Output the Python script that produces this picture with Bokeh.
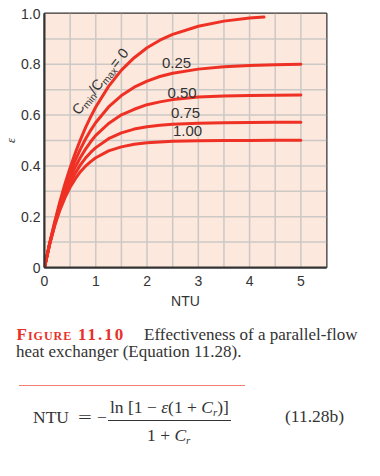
import math
from bokeh.plotting import figure
from bokeh.models import Range1d, FixedTicker, Div
from bokeh.layouts import column
from bokeh.core.properties import value
from bokeh.embed import file_html
from bokeh.resources import INLINE

# ---------------- data ----------------
ntu = [0, 0.1, 0.2, 0.3, 0.4, 0.5, 0.6, 0.7, 0.8, 0.9, 1.0, 1.25, 1.5, 1.75, 2.0, 2.25, 2.5, 3.0, 3.5, 4.0, 4.5, 5.0]
ntu_cr0 = [0, 0.1, 0.2, 0.3, 0.4, 0.5, 0.6, 0.7, 0.8, 0.9, 1.0, 1.25, 1.5, 1.75, 2.0, 2.25, 2.5, 3.0, 3.5, 4.0, 4.28]
eff_cr0 = [0, 0.095, 0.181, 0.259, 0.330, 0.393, 0.451, 0.503, 0.551, 0.593, 0.632, 0.713, 0.777, 0.826, 0.865, 0.895, 0.918, 0.950, 0.970, 0.982, 0.986]
eff_cr025 = [0, 0.094, 0.177, 0.250, 0.315, 0.372, 0.422, 0.466, 0.506, 0.540, 0.571, 0.632, 0.677, 0.710, 0.734, 0.752, 0.765, 0.781, 0.790, 0.795, 0.798, 0.800]
eff_cr050 = [0, 0.093, 0.173, 0.242, 0.301, 0.352, 0.396, 0.433, 0.466, 0.495, 0.520, 0.567, 0.601, 0.623, 0.641, 0.652, 0.661, 0.671, 0.675, 0.677, 0.678, 0.679]
eff_cr075 = [0, 0.092, 0.169, 0.233, 0.288, 0.333, 0.371, 0.404, 0.431, 0.453, 0.472, 0.507, 0.530, 0.545, 0.554, 0.560, 0.564, 0.568, 0.570, 0.571, 0.572, 0.572]
eff_cr100 = [0, 0.091, 0.165, 0.226, 0.275, 0.316, 0.349, 0.377, 0.399, 0.417, 0.432, 0.459, 0.475, 0.485, 0.491, 0.494, 0.497, 0.499, 0.500, 0.500, 0.501, 0.501]
cr_labels = ["0.25", "0.50", "0.75", "1.00"]
x_ticks = [0, 1, 2, 3, 4, 5]
y_ticks = [0, 0.2, 0.4, 0.6, 0.8, 1.0]
x_grid = [0.5, 1.0, 1.5, 2.0, 2.5, 3.0, 3.5, 4.0, 4.5, 5.0]
y_grid = [0.1, 0.2, 0.3, 0.4, 0.5, 0.6, 0.7, 0.8, 0.9]

# ---------------- styling / layout ----------------
RED = "#EE3124"
CAP_RED = "#E8302A"
INK = "#333333"
BG = "#FCE8DC"
GRID = "#CBC8C6"
SANS = "Liberation Sans"
SERIF = "Liberation Serif"

W = 380
H1 = 314
ML, MT, FW, FH = 42, 13, 284, 254
MB = H1 - MT - FH
MR = W - ML - FW
XMAX, YMAX = 5.5, 1.0


def page_to_data(px, py):
    return (px - ML) / FW * XMAX, (MT + FH - py) / FH * YMAX


p = figure(width=W, height=H1, x_range=Range1d(0, XMAX), y_range=Range1d(0, YMAX),
           output_backend="svg", toolbar_location=None,
           min_border_left=ML, min_border_right=MR, min_border_top=MT, min_border_bottom=MB,
           background_fill_color=BG, border_fill_color="white",
           outline_line_color=INK, outline_line_width=2)

p.xaxis.ticker = FixedTicker(ticks=x_ticks)
p.yaxis.ticker = FixedTicker(ticks=y_ticks)
p.yaxis.major_label_overrides = {0: "0", 1: "1.0"}
p.grid.visible = False

p.axis.major_tick_line_color = None
p.axis.minor_tick_line_color = None
p.axis.major_tick_out = 0
p.axis.major_tick_in = 0
p.axis.minor_tick_out = 0
p.axis.minor_tick_in = 0
p.axis.axis_line_color = INK
p.axis.axis_line_width = 2
p.axis.major_label_text_font = SANS
p.axis.major_label_text_font_size = "14px"
p.axis.major_label_text_color = INK
p.xaxis.major_label_standoff = 8
p.yaxis.major_label_standoff = 4

p.xaxis.axis_label = "NTU"
p.xaxis.axis_label_text_font = SANS
p.xaxis.axis_label_text_font_size = "14px"
p.xaxis.axis_label_text_font_style = "normal"
p.xaxis.axis_label_text_color = INK
p.xaxis.axis_label_standoff = 4

p.yaxis.axis_label = "ε"
p.yaxis.axis_label_text_font = SERIF
p.yaxis.axis_label_text_font_size = "13px"
p.yaxis.axis_label_text_font_style = "italic"
p.yaxis.axis_label_text_color = INK
p.yaxis.axis_label_standoff = 0

# plot background and grid lines
p.quad(left=[0], right=[XMAX], bottom=[0], top=[YMAX], fill_color=BG, line_color=None)
p.multi_line(xs=[[g, g] for g in x_grid], ys=[[0, YMAX] for _ in x_grid],
             line_color=GRID, line_width=1.5)
p.multi_line(xs=[[0, XMAX] for _ in y_grid], ys=[[g, g] for g in y_grid],
             line_color=GRID, line_width=1.5)

series = [(ntu_cr0, eff_cr0), (ntu, eff_cr025), (ntu, eff_cr050), (ntu, eff_cr075), (ntu, eff_cr100)]
for xs, ys in series:
    p.line(xs, ys, line_color=RED, line_width=3, line_join="round", line_cap="round")

# curve labels
label_pos = [(175, 62.5), (180.5, 92), (184, 112), (186, 130.5)]
for lab, (px, py) in zip(cr_labels, label_pos):
    lx, ly = page_to_data(px, py)
    p.text(x=[lx], y=[ly], text=[lab], text_font=value(SANS), text_font_size="15px",
           text_color=INK, text_align="center", text_baseline="middle")

# rotated "Cmin/Cmax = 0" label
theta = math.radians(51)
u = (math.cos(theta), -math.sin(theta))
dn = (math.sin(theta), math.cos(theta))
start = (72.6, 112.2)
pieces = [("C", "14.5px", 0, 10.5), ("min", "10px", 4, 16.0), ("/C", "14.5px", 0, 14.5),
          ("max", "10px", 4, 19.0), (" = 0", "14.5px", 0, 24.6)]
cum = 0.0
for s, fs, off, w in pieces:
    px = start[0] + cum * u[0] + off * dn[0]
    py = start[1] + cum * u[1] + off * dn[1]
    lx, ly = page_to_data(px, py)
    p.text(x=[lx], y=[ly], text=[s], angle=theta, text_font=value(SANS), text_font_size=fs,
           text_color=INK, text_align="left", text_baseline="middle")
    cum += w

# ---------------- caption and equation (HTML below the plot) ----------------
H2 = 476 - H1
parts = []


def span(px, baseline, inner, size, extra=""):
    top = baseline - H1 - 0.8375 * size
    parts.append(
        f'<span style="position:absolute;left:{px}px;top:{top:.1f}px;font-size:{size}px;'
        f'line-height:1;white-space:nowrap;{extra}">{inner}</span>')


def rule(px0, px1, py, color, width):
    parts.append(
        f'<div style="position:absolute;left:{px0}px;top:{py - H1 - width / 2:.1f}px;'
        f'width:{px1 - px0}px;height:0;border-top:{width}px solid {color};"></div>')


SUB = '<span style="font-size:0.63em;position:relative;top:0.28em;">r</span>'
cap_red = f"color:{CAP_RED};font-weight:bold;"
span(16.5, 340, "Figure", 17, cap_red + "font-variant:small-caps;letter-spacing:1px;")
span(78, 340, "11.10", 17, cap_red + "letter-spacing:2px;")
span(144, 340, "Effectiveness of a parallel-flow", 17)
span(16, 357.5, "heat exchanger (Equation 11.28).", 17)

rule(19, 245, 386, "#F07F72", 1.5)

span(33, 423.3, "NTU", 17.5)
span(78, 423.3, "=", 17.5, "transform:scaleX(1.4);transform-origin:left;")
span(97, 423.3, "−", 17.5)
span(110, 413.3, f"ln [1 − <i>ε</i>(1 + <i>C{SUB}</i>)]", 17.5)
rule(108, 231, 420, INK, 1)
span(147, 441.7, f"1 + <i>C{SUB}</i>", 17.5)
span(285, 422.7, "(11.28b)", 17.5)

html = (f'<div style="position:relative;width:{W}px;height:{H2}px;font-family:\'{SERIF}\';'
        f'color:{INK};">' + "".join(parts) + "</div>")
caption = Div(text=html, width=W, height=H2, margin=0)

layout = column(p, caption, spacing=0)
open("out.html", "w").write(file_html(layout, INLINE))
